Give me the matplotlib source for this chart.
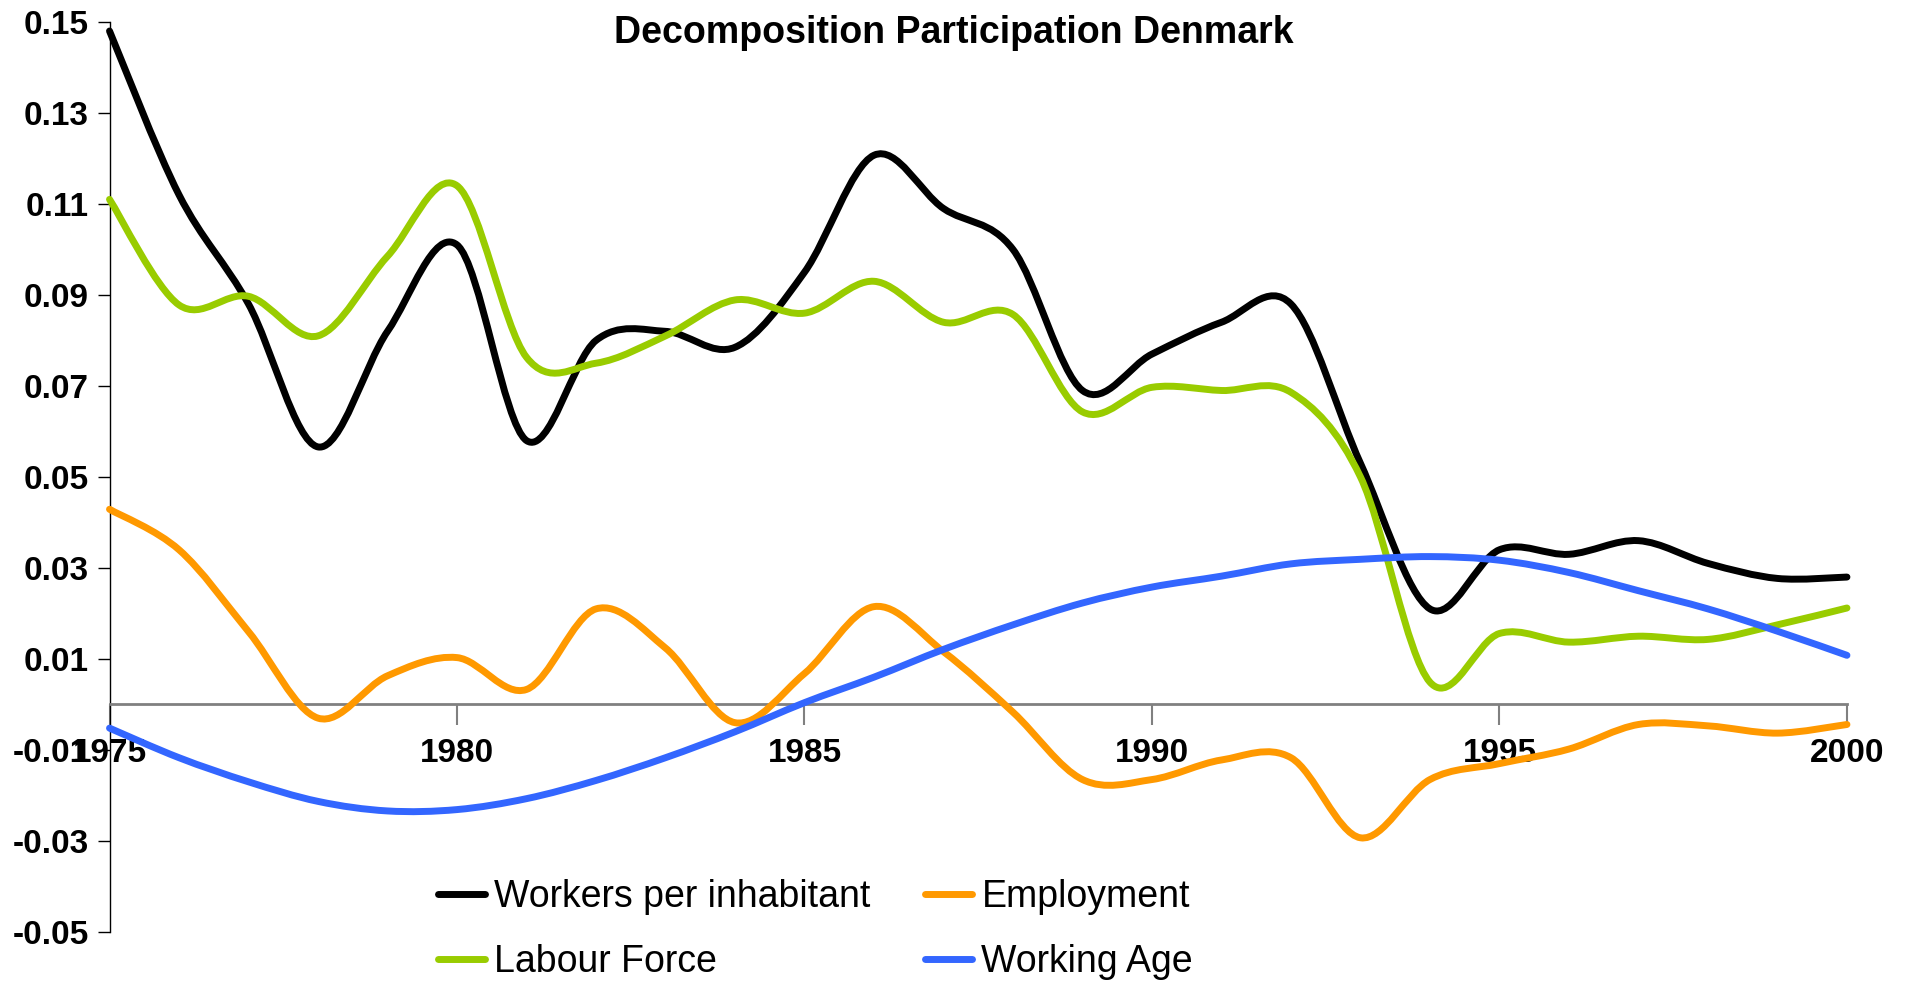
import matplotlib
matplotlib.use("Agg")
import matplotlib.pyplot as plt
from matplotlib.path import Path
from matplotlib.patches import PathPatch
from matplotlib.lines import Line2D
import numpy as np

years = np.arange(1975, 2001)

workers = [0.148, 0.112, 0.088, 0.0566, 0.082, 0.101, 0.058, 0.080, 0.082, 0.0785,
           0.095, 0.1207, 0.109, 0.100, 0.069, 0.077, 0.084, 0.088, 0.053, 0.021,
           0.034, 0.033, 0.036, 0.031, 0.0277, 0.028]
labour = [0.111, 0.0878, 0.0897, 0.081, 0.0985, 0.114, 0.0763, 0.075, 0.081, 0.0889,
          0.086, 0.093, 0.084, 0.0857, 0.0643, 0.0697, 0.069, 0.0686, 0.050, 0.0049,
          0.0156, 0.0137, 0.015, 0.0143, 0.0175, 0.0212]
employment = [0.0429, 0.034, 0.016, -0.003, 0.0063, 0.0103, 0.0033, 0.021, 0.0124, -0.004,
              0.0068, 0.0215, 0.0116, -0.0017, -0.0165, -0.0165, -0.0122, -0.0117, -0.0293, -0.0165,
              -0.013, -0.0098, -0.0044, -0.0047, -0.0063, -0.0044]
working_age = [-0.0052, -0.0117, -0.017, -0.0213, -0.0234, -0.0231, -0.0207, -0.0167, -0.0117, -0.006,
               0.0004, 0.006, 0.0121, 0.0175, 0.0223, 0.0258, 0.0282, 0.0309, 0.0319, 0.0325,
               0.0317, 0.029, 0.025, 0.021, 0.0161, 0.0108]

# legend is filled column by column, so this order gives the reference rows
legend_order = ["Workers per inhabitant", "Labour Force", "Employment", "Working Age"]
colors = {"Workers per inhabitant": "#000000", "Employment": "#FF9900",
          "Labour Force": "#99CC00", "Working Age": "#3366FF"}
series = {"Workers per inhabitant": workers, "Labour Force": labour,
          "Employment": employment, "Working Age": working_age}

yticks = [-0.05, -0.03, -0.01, 0.01, 0.03, 0.05, 0.07, 0.09, 0.11, 0.13, 0.15]
xticks = [1975, 1980, 1985, 1990, 1995, 2000]

plt.rcParams['font.family'] = ['Liberation Sans', 'DejaVu Sans']


def smooth_path(x, y):
    # excel-like smoothed line: bezier segments with catmull-rom control points
    p = np.column_stack([x, y]).astype(float)
    ext = np.vstack([p[0], p, p[-1]])
    verts = [p[0]]
    codes = [Path.MOVETO]
    for i in range(len(p) - 1):
        p0, p1, p2, p3 = ext[i], ext[i + 1], ext[i + 2], ext[i + 3]
        verts += [p1 + (p2 - p0) / 6, p2 - (p3 - p1) / 6, p2]
        codes += [Path.CURVE4] * 3
    return Path(verts, codes)


fig = plt.figure(figsize=(19.08, 9.83), dpi=100)
ax = fig.add_axes([0.0574, 0.0519, 0.9106, 0.9258])

lw = 5
for name in ["Workers per inhabitant", "Labour Force", "Employment", "Working Age"]:
    patch = PathPatch(smooth_path(years, series[name]), fill=False,
                      edgecolor=colors[name], lw=lw, capstyle='round',
                      joinstyle='round', clip_on=False, zorder=3)
    ax.add_patch(patch)

ax.set_xlim(1975, 2000)
ax.set_ylim(-0.05, 0.15)

ax.spines['top'].set_visible(False)
ax.spines['right'].set_visible(False)
ax.spines['bottom'].set_position(('data', 0))
ax.spines['bottom'].set_color('#808080')
ax.spines['bottom'].set_linewidth(2)
ax.spines['left'].set_linewidth(1)

ax.set_yticks(yticks)
ax.set_yticklabels([f"{v:.2f}" for v in yticks], fontsize=24, fontweight='bold')
ax.set_xticks(xticks)
ax.set_xticklabels([str(v) for v in xticks], fontsize=24, fontweight='bold')
ax.tick_params(axis='y', direction='out', length=9, width=1, pad=6)
ax.tick_params(axis='x', direction='out', length=15, width=1.5, color='#808080', pad=9)

fig.text(0.5, 0.9563, "Decomposition Participation Denmark", ha='center', va='baseline',
         fontsize=27, fontweight='bold')

handles = [Line2D([], [], color=colors[n], lw=lw, solid_capstyle='round') for n in legend_order]
fig.legend(handles, legend_order, loc='center', bbox_to_anchor=(0.4275, 0.0545), ncol=2,
           frameon=False, fontsize=27, handlelength=1.25, handletextpad=0.25,
           columnspacing=1.45, labelspacing=0.78, borderpad=0)

fig.savefig("out.png", dpi=100)
